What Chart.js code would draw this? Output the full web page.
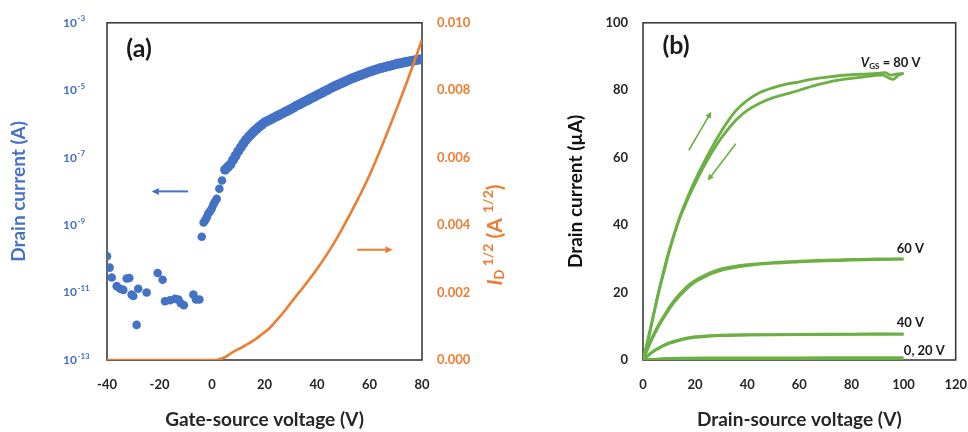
<!DOCTYPE html>
<html>
<head>
<meta charset="utf-8">
<script src="https://cdn.jsdelivr.net/npm/chart.js@4.4.1/dist/chart.umd.min.js"></script>
<style>
  html, body { margin: 0; padding: 0; background: #ffffff; overflow: hidden; }
  #wrap { position: relative; width: 968px; height: 432px; background: #ffffff; overflow: hidden; }
  #ca { position: absolute; left: 0; top: 0; }
  #cb { position: absolute; left: 540px; top: 0; }
</style>
</head>
<body>
<div id="wrap">
  <canvas id="ca" width="540" height="432"></canvas>
  <canvas id="cb" width="444" height="432"></canvas>
</div>
<script>
// ---------------- Panel (a) data ----------------
// off-state scatter (gate-source voltage V, drain current A)
const vgOff = [-40, -39, -38.2, -36.3, -35, -33.8, -32.5, -31.5, -30.6, -30, -28.7, -28.1, -24.9, -20.7, -18.8, -17.9, -16, -14.1, -12.8, -11.9, -10.7, -7.1, -6.1, -4.8];
const idOff = [1.2e-10, 5.5e-11, 2.8e-11, 1.55e-11, 1.3e-11, 1.2e-11, 2.6e-11, 2.7e-11, 8.7e-12, 7.9e-12, 1.1e-12, 1.3e-11, 1.0e-11, 3.8e-11, 2.4e-11, 5.5e-12, 5.9e-12, 6.5e-12, 6.2e-12, 4.8e-12, 4.2e-12, 8.7e-12, 6.2e-12, 6.2e-12];
// turn-on region
const vgRise = [-3.9, -3.2, -2.6, -2.0, -1.4, -0.7, -0.1, 0.5, 1.1, 1.8, 2.8, 3.8];
const idRise = [4.5e-10, 1.2e-9, 1.4e-9, 1.7e-9, 2.2e-9, 2.6e-9, 3.1e-9, 4.0e-9, 4.9e-9, 6.0e-9, 1.2e-8, 2.1e-8];
// on-state (dense measurement)
const vgOn = [5, 6, 7, 8, 9, 10, 11, 12, 13, 14, 15, 16, 17, 18, 19, 20, 21, 22, 23, 24, 25, 26, 27, 28, 29, 30, 31, 32, 33, 34, 35, 36, 37, 38, 39, 40, 41, 42, 43, 44, 45, 46, 47, 48, 49, 50, 51, 52, 53, 54, 55, 56, 57, 58, 59, 60, 61, 62, 63, 64, 65, 66, 67, 68, 69, 70, 71, 72, 73, 74, 75, 76, 77, 78, 79, 80];
const idOn = [4.37e-8, 5.25e-8, 6.31e-8, 8.51e-8, 1.15e-7, 1.55e-7, 2.04e-7, 2.69e-7, 3.39e-7, 4.17e-7, 5.01e-7, 6.03e-7, 7.08e-7, 8.32e-7, 9.55e-7,
  1.10e-6, 1.20e-6, 1.32e-6, 1.45e-6, 1.58e-6, 1.74e-6, 1.91e-6, 2.09e-6, 2.29e-6, 2.51e-6, 2.75e-6, 3.02e-6, 3.39e-6, 3.72e-6, 4.07e-6, 4.47e-6, 4.90e-6, 5.37e-6, 5.89e-6, 6.46e-6,
  7.08e-6, 7.76e-6, 8.51e-6, 9.33e-6, 1.02e-5, 1.12e-5, 1.23e-5, 1.35e-5, 1.45e-5, 1.58e-5, 1.70e-5, 1.86e-5, 2.00e-5, 2.19e-5, 2.34e-5, 2.51e-5, 2.69e-5, 2.88e-5, 3.09e-5, 3.31e-5,
  3.55e-5, 3.72e-5, 3.98e-5, 4.17e-5, 4.47e-5, 4.68e-5, 4.90e-5, 5.13e-5, 5.37e-5, 5.62e-5, 5.89e-5, 6.17e-5, 6.31e-5, 6.61e-5, 6.92e-5, 7.08e-5, 7.41e-5, 7.59e-5, 7.94e-5, 8.13e-5, 8.32e-5];
// square root of drain current (A^1/2)
const vgSq = [-40, 0, 2, 4, 6, 8, 10, 12, 14, 16, 18, 20, 22, 24, 26, 28, 30, 32, 35, 40, 45, 50, 55, 60, 65, 70, 75, 80];
const sqrtId = [0, 0, 0.00001, 0.00005, 0.00013, 0.00024, 0.00032, 0.0004, 0.00049, 0.00059, 0.0007, 0.00082, 0.00095, 0.00112, 0.0013, 0.00149, 0.00169, 0.00189, 0.00218, 0.0027, 0.00328, 0.00395, 0.00468, 0.00548, 0.0064, 0.00738, 0.0084, 0.0095];
// tick labels
const logTickExps = [-13, -11, -9, -7, -5, -3];
const sqrtTicks = [0, 0.002, 0.004, 0.006, 0.008, 0.010];

// ---------------- Panel (b) data (drain-source voltage V, drain current uA) ----------------
const vds80f = [0, 2, 4, 6, 8, 10, 12, 14, 16, 18, 20, 22, 24, 26, 28, 30, 33, 36, 40, 45, 50, 55, 60, 65, 70, 75, 80, 85, 90, 93, 95, 97, 100];
const id80f = [0, 6, 13, 20, 26, 32, 37.3, 42.2, 46.2, 49.9, 53.3, 56.5, 59.5, 62.4, 65.2, 67.8, 71.3, 74.2, 77, 79.4, 80.8, 81.8, 82.5, 83.3, 83.8, 84.3, 84.6, 84.8, 85, 85.2, 84.5, 84.8, 85];
const vds80r = [100, 98, 96, 94, 92, 88, 85, 80, 75, 70, 65, 60, 55, 50, 45, 40, 36, 33, 30, 28, 26, 24, 22, 20, 18, 16, 14, 12, 10, 8, 6, 4, 2, 0];
const id80r = [85, 84.4, 83.2, 83.8, 84.5, 84.3, 84, 83.5, 83, 82.2, 81.2, 80, 78.9, 77.8, 76.2, 74, 71.4, 68.8, 65.8, 63.5, 61, 58.3, 55.4, 52.3, 49.1, 45.6, 41.8, 37.4, 32.4, 26.6, 20.3, 13.5, 6.5, 0];
const vds60 = [0, 2, 4, 6, 8, 10, 12, 15, 18, 21, 24, 27, 30, 35, 40, 50, 60, 70, 80, 90, 100];
const id60f = [0, 4, 7.5, 10.5, 13, 15.5, 17.7, 20.3, 22.5, 24, 25.2, 26.2, 27, 27.8, 28.3, 28.9, 29.3, 29.6, 29.8, 30, 30];
const id60r = [0, 3.6, 7, 10, 12.6, 15, 17.2, 19.8, 22, 23.6, 24.8, 25.8, 26.6, 27.4, 28, 28.7, 29.1, 29.4, 29.6, 29.8, 29.9];
const vds40 = [0, 2, 4, 6, 8, 10, 13, 16, 20, 25, 30, 40, 60, 80, 100];
const id40f = [0, 1.5, 2.7, 3.6, 4.4, 5.1, 5.8, 6.4, 6.9, 7.2, 7.4, 7.5, 7.6, 7.7, 7.7];
const id40r = [0, 1.3, 2.5, 3.4, 4.2, 4.9, 5.6, 6.2, 6.7, 7.0, 7.2, 7.4, 7.5, 7.6, 7.7];
const vdsLow = [0, 10, 30, 50, 70, 100];
const id0 = [0, 0.1, 0.1, 0.1, 0.1, 0.1];
const id20 = [0, 0.5, 0.6, 0.6, 0.7, 0.7];

// ---------------- styles ----------------
const BLUE = '#4472C4', ORANGE = '#ED7D31', GREEN = '#6CB044', INK = '#262626', FRAME = '#3c3c3c';
const FONT = 'Lato';
Chart.defaults.font.family = FONT;

function pts(xs, ys) { return xs.map((v, i) => ({ x: v, y: ys[i] })); }

function drawFrame(chart) {
  const a = chart.chartArea, ctx = chart.ctx;
  ctx.save();
  ctx.strokeStyle = FRAME; ctx.lineWidth = 1.6;
  ctx.strokeRect(a.left, a.top, a.right - a.left, a.bottom - a.top);
  ctx.restore();
}
function arrow(ctx, x1, y1, x2, y2, color, w, head) {
  const ang = Math.atan2(y2 - y1, x2 - x1);
  ctx.save();
  ctx.strokeStyle = color; ctx.fillStyle = color; ctx.lineWidth = w;
  ctx.beginPath(); ctx.moveTo(x1, y1);
  ctx.lineTo(x2 - Math.cos(ang) * head * 0.8, y2 - Math.sin(ang) * head * 0.8); ctx.stroke();
  ctx.beginPath(); ctx.moveTo(x2, y2);
  ctx.lineTo(x2 - head * Math.cos(ang - 0.45), y2 - head * Math.sin(ang - 0.45));
  ctx.lineTo(x2 - head * Math.cos(ang + 0.45), y2 - head * Math.sin(ang + 0.45));
  ctx.closePath(); ctx.fill();
  ctx.restore();
}
// parts: [{t, f, dy}] ; draws starting at x (align 'left') or centred (align 'center')
function richText(ctx, parts, x, y, color, align, rot) {
  ctx.save();
  ctx.translate(x, y);
  if (rot) ctx.rotate(rot);
  ctx.fillStyle = color; ctx.textBaseline = 'middle'; ctx.textAlign = 'left';
  let total = 0;
  parts.forEach(p => { ctx.font = p.f; total += ctx.measureText(p.t).width; });
  let cx = align === 'center' ? -total / 2 : 0;
  parts.forEach(p => { ctx.font = p.f; ctx.fillText(p.t, cx, p.dy || 0); cx += ctx.measureText(p.t).width; });
  ctx.restore();
}

// ---------------- Chart (a) ----------------
const notesA = {
  id: 'notesA',
  beforeDatasetsDraw(chart) { drawFrame(chart); },
  afterDraw(chart) {
    const ctx = chart.ctx, x = chart.scales.x, y = chart.scales.y, y2 = chart.scales.y2, a = chart.chartArea;
    // log tick labels 10^n
    ctx.save();
    ctx.fillStyle = BLUE; ctx.textBaseline = 'middle'; ctx.textAlign = 'left';
    logTickExps.forEach(e => {
      const py = y.getPixelForValue(Math.pow(10, e));
      const lx = a.left - 44;
      ctx.font = `bold 12px ${FONT}`;
      ctx.fillText('10', lx, py);
      const w = ctx.measureText('10').width;
      ctx.font = `bold 8px ${FONT}`;
      ctx.fillText(String(e), lx + w + 0.5, py - 4);
    });
    ctx.restore();
    // panel tag
    ctx.save();
    ctx.fillStyle = '#1a1a1a'; ctx.font = `bold 25px ${FONT}`; ctx.textAlign = 'center'; ctx.textBaseline = 'middle';
    ctx.fillText('(a)', a.left + 32, a.top + 26);
    ctx.restore();
    // arrows
    arrow(ctx, x.getPixelForValue(-9.1), y.getPixelForValue(1e-8), x.getPixelForValue(-23), y.getPixelForValue(1e-8), BLUE, 2, 8);
    arrow(ctx, x.getPixelForValue(55.3), y2.getPixelForValue(0.00327), x.getPixelForValue(68.8), y2.getPixelForValue(0.00327), ORANGE, 2, 8);
    // right axis title
    richText(ctx, [
      { t: 'I', f: `italic bold 21px ${FONT}` },
      { t: 'D', f: `bold 13px ${FONT}`, dy: 5 },
      { t: ' 1/2', f: `bold 14px ${FONT}`, dy: -7 },
      { t: ' (A ', f: `bold 21px ${FONT}` },
      { t: '1/2', f: `bold 14px ${FONT}`, dy: -7 },
      { t: ')', f: `bold 21px ${FONT}` }
    ], y2.right - 12, 235, ORANGE, 'center', -Math.PI / 2);
  }
};

new Chart(document.getElementById('ca'), {
  type: 'scatter',
  data: {
    datasets: [
      { label: 'sqrt ID', data: pts(vgSq, sqrtId), yAxisID: 'y2', showLine: true, borderColor: ORANGE, borderWidth: 2.6, pointRadius: 0, tension: 0.2, order: 1 },
      { label: 'ID on', data: pts(vgOn, idOn), yAxisID: 'y', backgroundColor: BLUE, borderWidth: 0, pointRadius: 5, order: 2 },
      { label: 'ID rise', data: pts(vgRise, idRise), yAxisID: 'y', backgroundColor: BLUE, borderWidth: 0, pointRadius: 4.3, order: 3 },
      { label: 'ID off', data: pts(vgOff, idOff), yAxisID: 'y', backgroundColor: BLUE, borderWidth: 0, pointRadius: 4.3, order: 4 }
    ]
  },
  options: {
    responsive: false, animation: false, devicePixelRatio: 1,
    layout: { padding: { left: 0, top: 21, right: 33, bottom: 0 } },
    plugins: { legend: { display: false }, tooltip: { enabled: false } },
    scales: {
      x: {
        type: 'linear', min: -40, max: 80,
        grid: { display: false, drawTicks: false }, border: { display: false },
        ticks: { stepSize: 20, color: INK, padding: 17, font: { size: 13, weight: 'bold' } },
        title: { display: true, text: 'Gate-source voltage (V)', color: INK, font: { size: 19, weight: 'bold' }, padding: { top: 0, bottom: 1 } },
        afterFit(s) { s.height = 72; }
      },
      y: {
        type: 'logarithmic', position: 'left', min: 1e-13, max: 1e-3,
        afterBuildTicks(s) { s.ticks = logTickExps.map(e => ({ value: Math.pow(10, e) })); },
        grid: { display: false, drawTicks: false }, border: { display: false },
        ticks: { display: false },
        title: { display: true, text: 'Drain current (A)', color: BLUE, font: { size: 19, weight: 'bold' }, padding: { top: 7, bottom: 0 } },
        afterFit(s) { s.width = 107; }
      },
      y2: {
        type: 'linear', position: 'right', min: 0, max: 0.01,
        afterBuildTicks(s) { s.ticks = sqrtTicks.map(v => ({ value: v })); },
        grid: { display: false, drawTicks: false }, border: { display: false },
        ticks: { color: ORANGE, padding: 15, font: { size: 13, weight: 'bold' }, callback: v => Number(v).toFixed(3) },
        afterFit(s) { s.width = 85; }
      }
    }
  },
  plugins: [notesA]
});

// ---------------- Chart (b) ----------------
const notesB = {
  id: 'notesB',
  beforeDatasetsDraw(chart) { drawFrame(chart); },
  afterDraw(chart) {
    const ctx = chart.ctx, x = chart.scales.x, y = chart.scales.y, a = chart.chartArea;
    ctx.save();
    ctx.fillStyle = '#1a1a1a'; ctx.font = `bold 25px ${FONT}`; ctx.textAlign = 'center'; ctx.textBaseline = 'middle';
    ctx.fillText('(b)', a.left + 33, a.top + 23);
    ctx.restore();
    arrow(ctx, x.getPixelForValue(17.6), y.getPixelForValue(62.2), x.getPixelForValue(26.2), y.getPixelForValue(73.6), GREEN, 1.6, 7);
    arrow(ctx, x.getPixelForValue(35.6), y.getPixelForValue(64.1), x.getPixelForValue(24.8), y.getPixelForValue(53.2), GREEN, 1.6, 7);
    const lab = `bold 13px ${FONT}`;
    richText(ctx, [
      { t: 'V', f: `italic bold 13px ${FONT}` },
      { t: 'GS', f: `bold 8px ${FONT}`, dy: 3 },
      { t: ' = 80 V', f: lab }
    ], x.getPixelForValue(83.6), y.getPixelForValue(88.1), '#1a1a1a', 'left');
    richText(ctx, [{ t: '60 V', f: lab }], x.getPixelForValue(97.4), y.getPixelForValue(33.1), '#1a1a1a', 'left');
    richText(ctx, [{ t: '40 V', f: lab }], x.getPixelForValue(97.4), y.getPixelForValue(11.1), '#1a1a1a', 'left');
    richText(ctx, [{ t: '0, 20 V', f: lab }], x.getPixelForValue(100.1), y.getPixelForValue(2.8), '#1a1a1a', 'left');
  }
};
const gLine = { showLine: true, borderColor: GREEN, borderWidth: 2.8, pointRadius: 0, tension: 0.3, fill: false };
new Chart(document.getElementById('cb'), {
  type: 'scatter',
  data: {
    datasets: [
      Object.assign({ label: '80 V fwd', data: pts(vds80f, id80f) }, gLine),
      Object.assign({ label: '80 V rev', data: pts(vds80r, id80r) }, gLine),
      Object.assign({ label: '60 V fwd', data: pts(vds60, id60f) }, gLine),
      Object.assign({ label: '60 V rev', data: pts(vds60, id60r) }, gLine),
      Object.assign({ label: '40 V fwd', data: pts(vds40, id40f) }, gLine),
      Object.assign({ label: '40 V rev', data: pts(vds40, id40r) }, gLine),
      Object.assign({ label: '20 V', data: pts(vdsLow, id20) }, gLine),
      Object.assign({ label: '0 V', data: pts(vdsLow, id0) }, gLine)
    ]
  },
  options: {
    responsive: false, animation: false, devicePixelRatio: 1,
    layout: { padding: { left: 0, top: 21, right: 13, bottom: 0 } },
    plugins: { legend: { display: false }, tooltip: { enabled: false } },
    scales: {
      x: {
        type: 'linear', min: 0, max: 120,
        grid: { display: false, drawTicks: false }, border: { display: false },
        ticks: { stepSize: 20, color: INK, padding: 17, font: { size: 13, weight: 'bold' } },
        title: { display: true, text: 'Drain-source voltage (V)', color: INK, font: { size: 19, weight: 'bold' }, padding: { top: 0, bottom: 1 } },
        afterFit(s) { s.height = 72; }
      },
      y: {
        type: 'linear', min: 0, max: 100,
        grid: { display: false, drawTicks: false }, border: { display: false },
        ticks: { stepSize: 20, color: INK, padding: 15, font: { size: 13, weight: 'bold' } },
        title: { display: true, text: 'Drain current (µA)', color: '#111111', font: { size: 19, weight: 'bold' }, padding: { top: 24, bottom: 0 } },
        afterFit(s) { s.width = 103; }
      }
    }
  },
  plugins: [notesB]
});
</script>
</body>
</html>
